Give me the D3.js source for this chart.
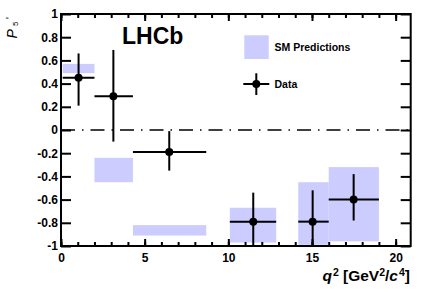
<!DOCTYPE html>
<html><head><meta charset="utf-8">
<script src="https://cdn.jsdelivr.net/npm/d3@7/dist/d3.min.js"></script>
<style>body{margin:0;background:#fff}svg{display:block;font-family:"Liberation Sans",Arial,Helvetica,sans-serif}</style>
</head><body><svg id="c" width="432" height="293"></svg>
<script>
// Data bins (q2 ranges)
const binLo = [0.1, 2.0, 4.3, 10.09, 14.18, 16.0];
const binHi = [2.0, 4.3, 8.68, 12.86, 16.0, 19.0];
// Data points
const dataX = [1.05, 3.13, 6.47, 11.49, 15.04, 17.49];
const dataY = [0.45, 0.29, -0.19, -0.79, -0.79, -0.60];
const errUp = [0.21, 0.40, 0.18, 0.25, 0.27, 0.22];
const errDn = [0.24, 0.39, 0.16, 0.22, 0.22, 0.18];
// SM prediction bands
const smLo = [0.49, -0.45, -0.91, -0.97, -0.99, -0.96];
const smHi = [0.57, -0.24, -0.82, -0.67, -0.45, -0.32];
const xTicks = [0, 5, 10, 15, 20];
const yTicks = [-1, -0.8, -0.6, -0.4, -0.2, 0, 0.2, 0.4, 0.6, 0.8, 1];
const yTickLabels = ["-1", "-0.8", "-0.6", "-0.4", "-0.2", "0", "0.2", "0.4", "0.6", "0.8", "1"];

const svg = d3.select("#c");
const L = 61, R = 410.7, T = 14, B = 246;
const x = d3.scaleLinear().domain([0, 20.9]).range([L, R]);
const y = d3.scaleLinear().domain([-1, 1]).range([B, T]);
const band = "#ccccff";

// SM boxes
svg.append("g").selectAll("rect").data(binLo).join("rect")
  .attr("x", (d, i) => x(binLo[i])).attr("width", (d, i) => x(binHi[i]) - x(binLo[i]))
  .attr("y", (d, i) => y(smHi[i])).attr("height", (d, i) => y(smLo[i]) - y(smHi[i]))
  .attr("fill", band);

// zero line
svg.append("line").attr("x1", L).attr("x2", R).attr("y1", y(0)).attr("y2", y(0))
  .attr("stroke", "#000").attr("stroke-width", 1.5).attr("stroke-dasharray", "14,7,1.5,7");

// axes
const axB = svg.append("g").attr("transform", `translate(0,${B})`)
  .call(d3.axisBottom(x).tickValues(xTicks).tickSize(7).tickSizeOuter(0).tickFormat(d3.format("d")));
const axBm = svg.append("g").attr("transform", `translate(0,${B})`)
  .call(d3.axisBottom(x).tickValues(d3.range(0, 21, 1)).tickSize(4).tickSizeOuter(0).tickFormat(""));
[axB, axBm].forEach(a => a.selectAll(".tick line").attr("transform", "scale(1,-1)").attr("stroke-width", 2));
axB.selectAll("text").attr("y", 16).attr("dy", 0).attr("font-size", "12px").attr("font-weight", "bold").attr("fill", "#000");

const axT = svg.append("g").attr("transform", `translate(0,${T})`)
  .call(d3.axisTop(x).tickValues(xTicks).tickSize(7).tickSizeOuter(0).tickFormat(""));
const axTm = svg.append("g").attr("transform", `translate(0,${T})`)
  .call(d3.axisTop(x).tickValues(d3.range(0, 21, 1)).tickSize(4).tickSizeOuter(0).tickFormat(""));
[axT, axTm].forEach(a => a.selectAll(".tick line").attr("transform", "scale(1,-1)").attr("stroke-width", 2));

const axL = svg.append("g").attr("transform", `translate(${L},0)`)
  .call(d3.axisLeft(y).tickValues(yTicks).tickSize(10).tickSizeOuter(0).tickFormat((d, i) => yTickLabels[i]));
axL.selectAll(".tick line").attr("transform", "scale(-1,1)").attr("stroke-width", 2);
axL.selectAll("text").attr("x", -3).attr("font-size", "12px").attr("font-weight", "bold").attr("fill", "#000");

const axR = svg.append("g").attr("transform", `translate(${R},0)`)
  .call(d3.axisRight(y).tickValues(yTicks).tickSize(10).tickSizeOuter(0).tickFormat(""));
axR.selectAll(".tick line").attr("transform", "scale(-1,1)").attr("stroke-width", 2);

svg.selectAll(".domain").remove();
svg.append("rect").attr("x", L).attr("y", T).attr("width", R - L).attr("height", B - T)
  .attr("fill", "none").attr("stroke", "#000").attr("stroke-width", 2);

// data error bars
const g = svg.append("g").attr("stroke", "#000").attr("stroke-width", 2);
g.selectAll("line.h").data(dataX).join("line").attr("class", "h")
  .attr("x1", (d, i) => x(binLo[i])).attr("x2", (d, i) => x(binHi[i]))
  .attr("y1", (d, i) => y(dataY[i])).attr("y2", (d, i) => y(dataY[i]));
g.selectAll("line.v").data(dataX).join("line").attr("class", "v")
  .attr("x1", d => x(d)).attr("x2", d => x(d))
  .attr("y1", (d, i) => y(Math.max(-1, dataY[i] - errDn[i]))).attr("y2", (d, i) => y(dataY[i] + errUp[i]));
svg.append("g").selectAll("circle").data(dataX).join("circle")
  .attr("cx", d => x(d)).attr("cy", (d, i) => y(dataY[i])).attr("r", 4).attr("fill", "#000");

// LHCb label
svg.append("text").attr("x", 122).attr("y", 43.5).attr("font-size", "23px").attr("font-weight", "bold").text("LHCb");

// legend
svg.append("rect").attr("x", 244.3).attr("y", 35.3).attr("width", 24.4).attr("height", 23.7).attr("fill", band);
svg.append("text").attr("x", 274.5).attr("y", 51).attr("font-size", "10.5px").attr("font-weight", "bold").text("SM Predictions");
svg.append("line").attr("x1", 243.3).attr("x2", 269.3).attr("y1", 84).attr("y2", 84).attr("stroke", "#000").attr("stroke-width", 2);
svg.append("line").attr("x1", 256.3).attr("x2", 256.3).attr("y1", 73.3).attr("y2", 95).attr("stroke", "#000").attr("stroke-width", 2);
svg.append("circle").attr("cx", 256.3).attr("cy", 84).attr("r", 4).attr("fill", "#000");
svg.append("text").attr("x", 274.5).attr("y", 88).attr("font-size", "10.5px").attr("font-weight", "bold").text("Data");

// x label
const xl = svg.append("text").attr("x", 410).attr("y", 280.5).attr("text-anchor", "end")
  .attr("font-size", "15.5px").attr("font-weight", "bold");
xl.append("tspan").attr("font-style", "italic").text("q");
xl.append("tspan").attr("font-size", "10.5px").attr("dy", -5).attr("dx", 1).text("2");
xl.append("tspan").attr("dy", 5).text(" [GeV");
xl.append("tspan").attr("font-size", "10.5px").attr("dy", -5).text("2");
xl.append("tspan").attr("dy", 5).text("/");
xl.append("tspan").attr("font-style", "italic").text("c");
xl.append("tspan").attr("font-size", "10.5px").attr("dy", -5).attr("dx", 1).text("4");
xl.append("tspan").attr("dy", 5).text("]");

// y label: P'_5
svg.append("text").attr("transform", "translate(16.5,38.5) rotate(-90)").attr("font-size", "14px")
  .attr("font-style", "italic").text("P");
svg.append("text").attr("transform", "translate(18,26) rotate(-90)").attr("font-size", "8px").text("5");
svg.append("text").attr("transform", "translate(14,19) rotate(-90)").attr("font-size", "10px").text("'");
</script></body></html>
